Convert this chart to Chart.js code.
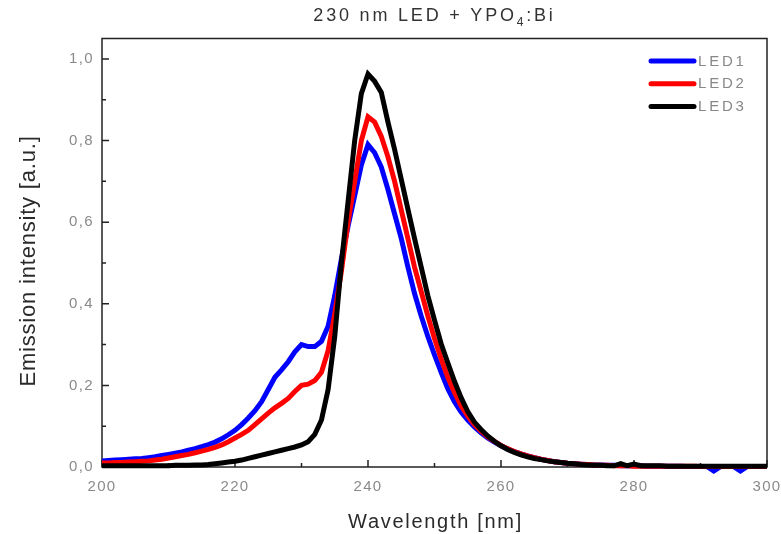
<!DOCTYPE html>
<html>
<head>
<meta charset="utf-8">
<script src="https://cdn.jsdelivr.net/npm/chart.js@4.4.1/dist/chart.umd.min.js"></script>
<style>
  html, body { margin: 0; padding: 0; background: #fff; }
  #wrap { width: 781px; height: 534px; position: relative; }
</style>
</head>
<body>
<div id="wrap"><canvas id="chart"></canvas></div>
<script>
// Wavelength grid (nm)
const wavelengths = [
  200,201,202,203,204,205,206,207,208,209,
  210,211,212,213,214,215,216,217,218,219,
  220,221,222,223,224,225,226,227,228,229,
  230,231,232,233,234,235,236,237,238,239,
  240,241,242,243,244,245,246,247,248,249,
  250,251,252,253,254,255,256,257,258,259,
  260,261,262,263,264,265,266,267,268,269,
  270,271,272,273,274,275,276,277,278,279,
  280,281,282,283,284,285,286,287,288,289,
  290,291,292,293,294,295,296,297,298,299,
  300
];

// Normalised emission intensity for each LED
const led1 = [
  0.015,0.016,0.017,0.018,0.019,0.020,0.021,0.023,0.025,0.028,
  0.031,0.034,0.037,0.041,0.045,0.050,0.055,0.061,0.069,0.079,
  0.090,0.104,0.120,0.138,0.160,0.190,0.220,0.238,0.258,0.282,
  0.300,0.295,0.295,0.308,0.345,0.420,0.510,0.590,0.665,0.740,
  0.790,0.770,0.735,0.680,0.620,0.560,0.490,0.425,0.370,0.320,
  0.275,0.232,0.192,0.160,0.135,0.115,0.098,0.084,0.071,0.061,
  0.052,0.044,0.038,0.032,0.027,0.023,0.019,0.016,0.013,0.011,
  0.009,0.008,0.007,0.006,0.005,0.005,0.004,0.004,0.003,0.003,
  0.003,0.003,0.002,0.002,0.002,0.002,0.002,0.002,0.001,0.001,
  0.001,0.001,-0.010,0.001,0.001,0.001,-0.010,0.001,0.001,0.001,
  0.001
];
const led2 = [
  0.010,0.010,0.011,0.011,0.012,0.013,0.014,0.015,0.017,0.019,
  0.022,0.025,0.028,0.031,0.035,0.039,0.043,0.048,0.054,0.062,
  0.071,0.080,0.090,0.104,0.118,0.132,0.145,0.156,0.168,0.185,
  0.200,0.203,0.212,0.232,0.285,0.375,0.480,0.600,0.700,0.800,
  0.858,0.845,0.810,0.760,0.700,0.630,0.560,0.490,0.430,0.370,
  0.315,0.265,0.220,0.183,0.150,0.125,0.104,0.088,0.074,0.063,
  0.053,0.045,0.038,0.032,0.027,0.023,0.019,0.016,0.013,0.011,
  0.009,0.008,0.007,0.006,0.005,0.004,0.004,0.003,0.003,0.003,
  0.002,0.002,0.002,0.002,0.002,0.002,0.002,0.002,0.002,0.002,
  0.001,0.001,0.001,0.001,0.001,0.001,0.001,0.001,0.001,0.001,
  0.001
];
const led3 = [
  0.003,0.003,0.003,0.003,0.003,0.003,0.003,0.003,0.003,0.003,
  0.003,0.004,0.004,0.004,0.005,0.005,0.006,0.008,0.010,0.012,
  0.014,0.017,0.021,0.025,0.029,0.033,0.037,0.041,0.045,0.049,
  0.054,0.062,0.080,0.115,0.190,0.320,0.500,0.650,0.800,0.915,
  0.963,0.945,0.918,0.845,0.778,0.705,0.632,0.560,0.490,0.420,
  0.360,0.302,0.255,0.210,0.170,0.136,0.110,0.092,0.076,0.063,
  0.052,0.043,0.036,0.030,0.025,0.021,0.018,0.015,0.013,0.011,
  0.009,0.008,0.006,0.005,0.004,0.004,0.003,0.003,0.008,0.003,
  0.007,0.003,0.003,0.003,0.003,0.002,0.002,0.002,0.002,0.002,
  0.002,0.002,0.002,0.002,0.002,0.002,0.002,0.002,0.002,0.002,
  0.002
];

const seriesNames = ['LED1', 'LED2', 'LED3'];
const seriesColors = ['#0000ff', '#ff0000', '#000000'];
const xTicks = [200, 220, 240, 260, 280, 300];
const yTicks = [0, 0.2, 0.4, 0.6, 0.8, 1.0];

const FONT = '"Liberation Sans", Arial, sans-serif';

function toPoints(values) {
  return wavelengths.map((w, i) => ({ x: w, y: values[i] }));
}

// Frame, inward tick marks, titles and legend
const decorations = {
  id: 'decorations',
  beforeDraw(chart) {
    chart.ctx.letterSpacing = '1.4px';
  },
  beforeDatasetsDraw(chart) {
    const { ctx, chartArea: a, scales: { x, y } } = chart;
    ctx.save();
    ctx.strokeStyle = '#222';
    ctx.lineWidth = 1.5;
    ctx.strokeRect(a.left, a.top, a.right - a.left, a.bottom - a.top);
    ctx.beginPath();
    xTicks.forEach((v, i) => {
      const px = x.getPixelForValue(v);
      ctx.moveTo(px, a.bottom); ctx.lineTo(px, a.bottom - 7);
      if (i < xTicks.length - 1) {
        const pm = x.getPixelForValue((v + xTicks[i + 1]) / 2);
        ctx.moveTo(pm, a.bottom); ctx.lineTo(pm, a.bottom - 4);
      }
    });
    yTicks.forEach((v, i) => {
      const py = y.getPixelForValue(v);
      ctx.moveTo(a.left, py); ctx.lineTo(a.left + 7, py);
      if (i < yTicks.length - 1) {
        const pm = y.getPixelForValue((v + yTicks[i + 1]) / 2);
        ctx.moveTo(a.left, pm); ctx.lineTo(a.left + 4, pm);
      }
    });
    ctx.stroke();
    ctx.restore();
  },
  afterDraw(chart) {
    const { ctx, chartArea: a } = chart;
    ctx.save();

    // Title with subscript
    ctx.fillStyle = '#333';
    ctx.textBaseline = 'alphabetic';
    ctx.textAlign = 'left';
    ctx.letterSpacing = '2.8px';
    const mainFont = '18px ' + FONT;
    const subFont = '12px ' + FONT;
    const p1 = '230 nm LED + YPO', p2 = '4', p3 = ':Bi';
    ctx.font = mainFont; const w1 = ctx.measureText(p1).width; const w3 = ctx.measureText(p3).width;
    ctx.font = subFont; const w2 = ctx.measureText(p2).width;
    let tx = (a.left + a.right) / 2 - (w1 + w2 + w3) / 2;
    const ty = 21;
    ctx.font = mainFont; ctx.fillText(p1, tx, ty); tx += w1;
    ctx.font = subFont; ctx.fillText(p2, tx, ty + 5); tx += w2;
    ctx.font = mainFont; ctx.fillText(p3, tx, ty);

    // Axis titles
    ctx.fillStyle = '#2a2a2a';
    ctx.textAlign = 'center';
    ctx.textBaseline = 'middle';
    ctx.font = '20px ' + FONT;
    ctx.letterSpacing = '1.7px';
    ctx.fillText('Wavelength [nm]', (a.left + a.right) / 2 + 1, 522);
    ctx.save();
    ctx.translate(29, 261);
    ctx.rotate(-Math.PI / 2);
    ctx.font = '22px ' + FONT;
    ctx.letterSpacing = '0.8px';
    ctx.fillText('Emission intensity [a.u.]', 0, 0);
    ctx.restore();

    // Legend
    ctx.letterSpacing = '2.8px';
    ctx.font = '15px ' + FONT;
    ctx.textAlign = 'left';
    ctx.textBaseline = 'middle';
    ctx.lineCap = 'round';
    ctx.lineWidth = 5;
    seriesNames.forEach((name, i) => {
      const ly = a.top + 22.5 + i * 22.7;
      ctx.strokeStyle = seriesColors[i];
      ctx.beginPath();
      ctx.moveTo(a.right - 116, ly);
      ctx.lineTo(a.right - 73, ly);
      ctx.stroke();
      ctx.fillStyle = '#888';
      ctx.fillText(name, a.right - 69, ly + 0.5);
    });
    ctx.restore();
  }
};

new Chart(document.getElementById('chart'), {
  type: 'line',
  data: {
    datasets: [led1, led2, led3].map((vals, i) => ({
      label: seriesNames[i],
      data: toPoints(vals),
      borderColor: seriesColors[i],
      backgroundColor: seriesColors[i],
      borderWidth: 5,
      pointRadius: 0,
      tension: 0,
      fill: false,
      clip: 10,
      order: 3 - i
    }))
  },
  options: {
    responsive: true,
    maintainAspectRatio: false,
    animation: false,
    layout: { padding: { top: 38.5, right: 14, left: 0, bottom: 0 } },
    plugins: {
      legend: { display: false },
      title: { display: false },
      tooltip: { enabled: false }
    },
    scales: {
      x: {
        type: 'linear',
        min: 200,
        max: 300,
        grid: { display: false, drawTicks: false },
        border: { display: false },
        afterBuildTicks(scale) { scale.ticks = xTicks.map(v => ({ value: v })); },
        afterFit(scale) {
          scale.height = 67;
          scale.paddingLeft = 0;
          scale.paddingRight = 0;
        },
        ticks: {
          padding: 11,
          color: '#8a8a8a',
          font: { family: FONT, size: 15 },
          maxRotation: 0,
          callback: v => String(v)
        }
      },
      y: {
        type: 'linear',
        min: 0,
        max: 1.05,
        grid: { display: false, drawTicks: false },
        border: { display: false },
        afterBuildTicks(scale) { scale.ticks = yTicks.map(v => ({ value: v })); },
        afterFit(scale) {
          scale.width = 102;
          scale.paddingTop = 0;
          scale.paddingBottom = 0;
        },
        ticks: {
          padding: 8,
          color: '#8a8a8a',
          font: { family: FONT, size: 15 },
          callback: v => Number(v).toFixed(1).replace('.', ',')
        }
      }
    }
  },
  plugins: [decorations]
});
</script>
</body>
</html>
